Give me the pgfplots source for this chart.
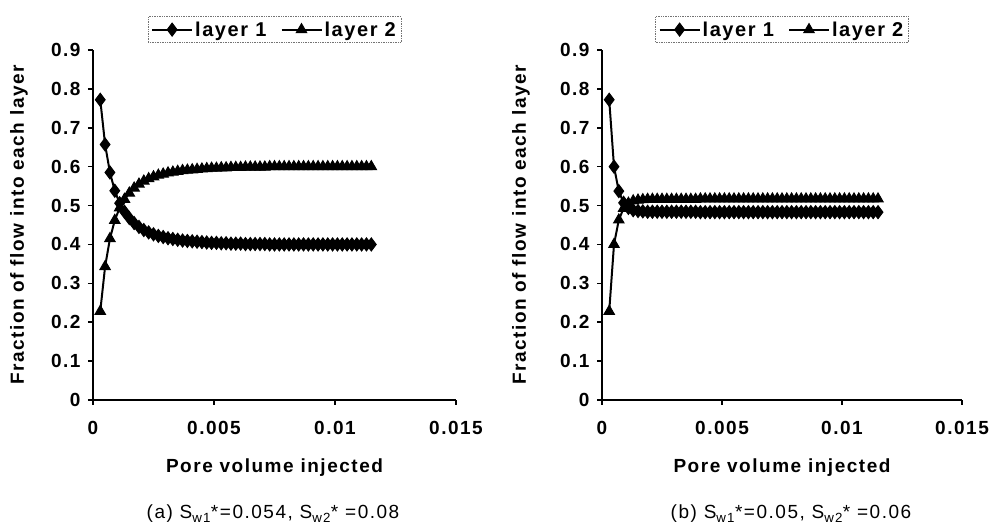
\documentclass[border=0pt]{standalone}
\usepackage{fontspec}
\setmainfont{Liberation Sans}[LetterSpace=8]
\usepackage{pgfplots}
\pgfplotsset{compat=1.18}
\usepackage{pgfplotstable}

\pgfplotstableread{
x a b
0.0003 0.772 0.228
0.0005 0.657 0.343
0.0007 0.585 0.415
0.0009 0.538 0.462
0.0011 0.506 0.494
0.0013 0.484 0.516
0.0015 0.468 0.532
0.0017 0.455 0.545
0.0019 0.445 0.555
0.0021 0.437 0.563
0.0023 0.431 0.569
0.0025 0.426 0.574
0.0027 0.422 0.578
0.0029 0.419 0.581
0.0031 0.416 0.584
0.0033 0.414 0.586
0.0035 0.412 0.588
0.0037 0.410 0.590
0.0039 0.409 0.591
0.0041 0.408 0.592
0.0043 0.407 0.593
0.0045 0.406 0.594
0.0047 0.405 0.595
0.0049 0.404 0.596
0.0051 0.404 0.596
0.0053 0.403 0.597
0.0055 0.403 0.597
0.0057 0.402 0.598
0.0059 0.402 0.598
0.0061 0.402 0.598
0.0063 0.401 0.599
0.0065 0.401 0.599
0.0067 0.401 0.599
0.0069 0.401 0.599
0.0071 0.401 0.599
0.0073 0.400 0.600
0.0075 0.400 0.600
0.0077 0.400 0.600
0.0079 0.400 0.600
0.0081 0.400 0.600
0.0083 0.400 0.600
0.0085 0.400 0.600
0.0087 0.400 0.600
0.0089 0.400 0.600
0.0091 0.400 0.600
0.0093 0.400 0.600
0.0095 0.400 0.600
0.0097 0.400 0.600
0.0099 0.400 0.600
0.0101 0.400 0.600
0.0103 0.400 0.600
0.0105 0.400 0.600
0.0107 0.400 0.600
0.0109 0.400 0.600
0.0111 0.400 0.600
0.0113 0.400 0.600
0.0115 0.400 0.600
}\dataA

\pgfplotstableread{
x a b
0.0003 0.772 0.228
0.0005 0.600 0.400
0.0007 0.537 0.463
0.0009 0.507 0.493
0.0011 0.494 0.506
0.0013 0.488 0.512
0.0015 0.486 0.514
0.0017 0.485 0.515
0.0019 0.484 0.516
0.0021 0.484 0.516
0.0023 0.484 0.516
0.0025 0.484 0.516
0.0027 0.484 0.516
0.0029 0.484 0.516
0.0031 0.484 0.516
0.0033 0.484 0.516
0.0035 0.484 0.516
0.0037 0.484 0.516
0.0039 0.484 0.516
0.0041 0.483 0.517
0.0043 0.483 0.517
0.0045 0.483 0.517
0.0047 0.483 0.517
0.0049 0.483 0.517
0.0051 0.483 0.517
0.0053 0.483 0.517
0.0055 0.483 0.517
0.0057 0.483 0.517
0.0059 0.483 0.517
0.0061 0.483 0.517
0.0063 0.483 0.517
0.0065 0.483 0.517
0.0067 0.483 0.517
0.0069 0.483 0.517
0.0071 0.483 0.517
0.0073 0.483 0.517
0.0075 0.483 0.517
0.0077 0.483 0.517
0.0079 0.483 0.517
0.0081 0.483 0.517
0.0083 0.483 0.517
0.0085 0.483 0.517
0.0087 0.483 0.517
0.0089 0.483 0.517
0.0091 0.483 0.517
0.0093 0.483 0.517
0.0095 0.483 0.517
0.0097 0.483 0.517
0.0099 0.483 0.517
0.0101 0.483 0.517
0.0103 0.483 0.517
0.0105 0.483 0.517
0.0107 0.483 0.517
0.0109 0.483 0.517
0.0111 0.483 0.517
0.0113 0.483 0.517
0.0115 0.483 0.517
}\dataB

\newcommand{\bigfont}{\fontsize{19}{22}\selectfont}
\newcommand{\legfont}{\fontsize{20}{23}\selectfont}

\pgfplotsset{
  fracstyle/.style={
    scale only axis, height=350pt,
    xmin=0, xmax=0.015, ymin=0, ymax=0.9,
    scaled x ticks=false, scaled y ticks=false,
    axis lines*=left,
    axis line style={line width=2pt, black},
    xtick={0,0.005,0.01,0.015},
    xticklabels={0,0.005,0.01,0.015},
    ytick={0,0.1,0.2,0.3,0.4,0.5,0.6,0.7,0.8,0.9},
    yticklabels={0,0.1,0.2,0.3,0.4,0.5,0.6,0.7,0.8,0.9},
    tick align=outside, major tick length=5pt,
    tick style={line width=1.6pt, black},
    ticklabel style={font=\bigfont\bfseries},
    yticklabel style={xshift=-4pt},
    xticklabel style={anchor=base, yshift=-30pt},
    every axis x label/.style={at={(axis description cs:0.5,0)}, anchor=base, yshift=-73pt, font=\bigfont\bfseries},
    xlabel={Pore volume injected},
    ylabel={Fraction of flow into each layer},
    clip=false,
    legend columns=2,
    legend style={at={(0.5,1)}, anchor=south, yshift=7pt,
      draw=black!55, densely dotted, line width=0.7pt,
      font=\legfont\bfseries, inner sep=3pt,
      /tikz/every even column/.append style={column sep=12pt}},
    legend image code/.code={\draw[mark repeat=2,mark phase=2,#1] plot coordinates {(0pt,0pt) (20pt,0pt) (40pt,0pt)};},
    l1/.style={solid, black, line width=2pt, mark=diamond*, mark size=6.5pt, mark options={solid, fill=black, line width=1pt}},
    l2/.style={solid, black, line width=2pt, mark=triangle*, mark size=6pt, mark options={solid, fill=black, line width=1pt}},
  }
}

\begin{document}
\begin{tikzpicture}
\path[use as bounding box] (0,0) rectangle (992pt,526pt);

\begin{axis}[fracstyle, width=363pt, at={(93pt,126pt)}, anchor=south west,
  every axis y label/.style={at={(axis description cs:-0.204,0.5)}, rotate=90, anchor=center, font=\bigfont\bfseries}]
\addplot[l1] table[x=x, y=a] {\dataA};
\addlegendentry{layer 1}
\addplot[l2] table[x=x, y=b] {\dataA};
\addlegendentry{layer 2}
\end{axis}

\begin{axis}[fracstyle, width=360pt, at={(602pt,126pt)}, anchor=south west,
  every axis y label/.style={at={(axis description cs:-0.225,0.5)}, rotate=90, anchor=center, font=\bigfont\bfseries}]
\addplot[l1] table[x=x, y=a] {\dataB};
\addlegendentry{layer 1}
\addplot[l2] table[x=x, y=b] {\dataB};
\addlegendentry{layer 2}
\end{axis}

\node[anchor=base, font=\bigfont] at (273pt,7pt) {(a) S\textsubscript{w1}*=0.054, S\textsubscript{w2}* =0.08};
\node[anchor=base, font=\bigfont] at (791pt,7pt) {(b) S\textsubscript{w1}*=0.05, S\textsubscript{w2}* =0.06};
\end{tikzpicture}
\end{document}
